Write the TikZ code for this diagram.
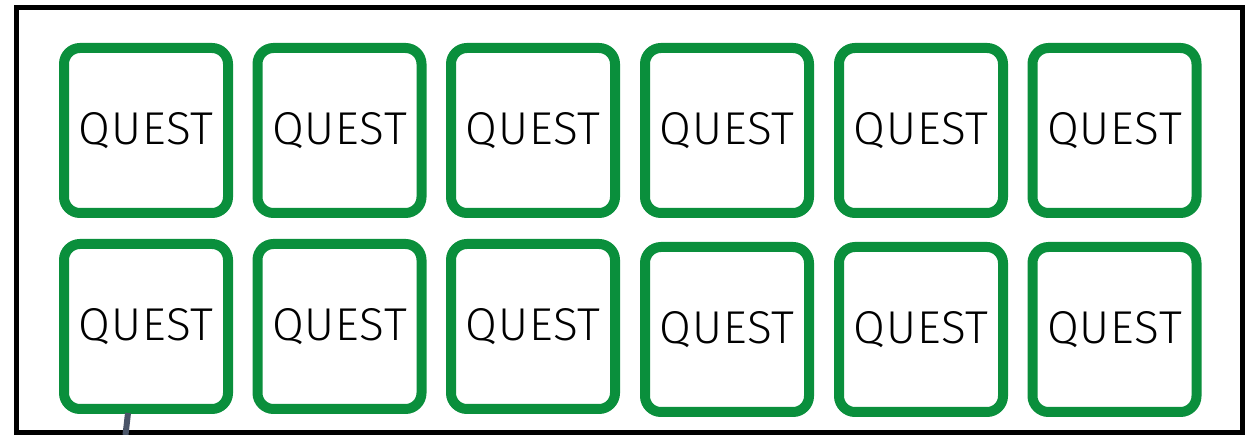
\documentclass[tikz,border=0pt]{standalone}
\usepackage{fontspec}
\newfontfamily\questfont[LetterSpace=2]{Fira Sans Light}
\definecolor{qgreen}{RGB}{10,143,60}
\definecolor{wire}{RGB}{74,85,104}
\tikzset{
  qbox/.style={draw=qgreen, line width=10pt, rounded corners=16pt,
    minimum width=164pt, minimum height=165pt, inner sep=0pt, fill=white},
  qtext/.style={font=\questfont\fontsize{46}{50}\selectfont, text=black,
    text height=32pt, text depth=0pt, inner sep=0pt},
  frame/.style={draw=black, line width=5pt},
  wireline/.style={draw=wire, line width=6pt}
}
\begin{document}
\begin{tikzpicture}[x=1pt,y=-1pt]
\useasboundingbox (0,0) rectangle (1248,435);
\draw[frame] (16.5,7.5) rectangle (1242,432.5);
% top row
\foreach \i/\x in {1/146,2/339.5,3/533,4/727,5/921,6/1114.5}{
  \node[qbox] (t\i) at (\x,130.5) {};
  \node[qtext] (tl\i) at (\x,129) {QUEST};
}
% bottom row
\foreach \i/\x/\y in {1/146/326.5,2/339.5/326.5,3/533/326.5,4/727/329.5,5/921/329.5,6/1114.5/329.5}{
  \node[qbox] (b\i) at (\x,\y) {};
  \node[qtext] (bl\i) at (\x,\y-1.5) {QUEST};
}
\coordinate (wend) at (125.5,435);
\draw[wireline] ([xshift=-18pt,yshift=1pt]b1.south) -- (wend);
\end{tikzpicture}
\end{document}
